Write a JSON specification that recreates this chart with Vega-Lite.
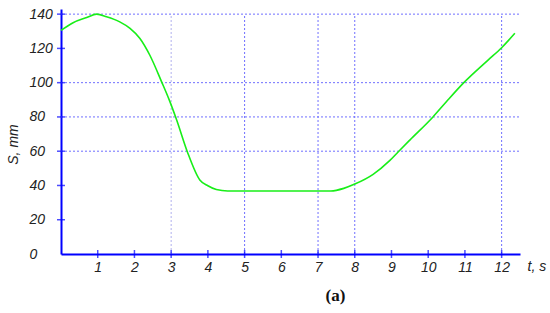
{
  "$schema": "https://vega.github.io/schema/vega-lite/v6.json",
  "width": 459,
  "height": 245,
  "autosize": {"type": "none"},
  "padding": {"left": 61, "top": 9, "right": 30, "bottom": 59},
  "background": "white",
  "config": {
    "view": {"stroke": null},
    "axis": {
      "labelOverlap": false, "labelBound": false, "labelFlush": false,
      "grid": false, "ticks": false, "tickSize": 0,
      "domainColor": "#0000ff", "domainWidth": 2,
      "labelFont": "Liberation Sans", "labelFontStyle": "italic", "labelFontSize": 14, "labelColor": "#222222",
      "titleFont": "Liberation Sans", "titleFontStyle": "italic", "titleFontWeight": "normal", "titleFontSize": 14, "titleColor": "#222222"
    }
  },
  "title": {
    "text": "(a)",
    "orient": "bottom",
    "anchor": "middle",
    "font": "Liberation Serif",
    "fontSize": 17,
    "fontWeight": "bold",
    "color": "#111111",
    "dx": 45,
    "offset": 14
  },
  "datasets": {
    "curve": [
      {"t": 0, "S": 130.5}, {"t": 0.33, "S": 135}, {"t": 0.7, "S": 138}, {"t": 0.97, "S": 140},
      {"t": 1.24, "S": 138.5}, {"t": 1.6, "S": 135.5}, {"t": 1.88, "S": 131.7}, {"t": 2.15, "S": 125.8},
      {"t": 2.42, "S": 116}, {"t": 2.74, "S": 100.5}, {"t": 2.95, "S": 89.8}, {"t": 3.15, "S": 78.2},
      {"t": 3.44, "S": 59.7}, {"t": 3.78, "S": 43.2}, {"t": 4.0, "S": 39.8}, {"t": 4.23, "S": 37.6},
      {"t": 4.54, "S": 36.8}, {"t": 7.35, "S": 36.8}, {"t": 7.7, "S": 38.3}, {"t": 8, "S": 40.8},
      {"t": 8.5, "S": 46.5}, {"t": 8.95, "S": 54.5}, {"t": 9.2, "S": 60}, {"t": 9.5, "S": 66.5},
      {"t": 10.13, "S": 80}, {"t": 10.5, "S": 89}, {"t": 10.97, "S": 100}, {"t": 11.63, "S": 113.2},
      {"t": 12, "S": 120.4}, {"t": 12.36, "S": 128.8}
    ],
    "hgrid": [{"S": 60}, {"S": 80}, {"S": 100}, {"S": 140}],
    "vgrid": [{"t": 5}, {"t": 7}, {"t": 8}, {"t": 12}],
    "vgridLight": [{"t": 3}],
    "xticks": [{"t": 1}, {"t": 2}, {"t": 3}, {"t": 4}, {"t": 5}, {"t": 6}, {"t": 7}, {"t": 8}, {"t": 9}, {"t": 10}, {"t": 11}, {"t": 12}],
    "yticks": [{"S": 20}, {"S": 40}, {"S": 60}, {"S": 80}, {"S": 100}, {"S": 120}, {"S": 140}]
  },
  "resolve": {"axis": {"x": "independent", "y": "independent"}},
  "layer": [
    {
      "data": {"name": "hgrid"},
      "mark": {"type": "rule", "color": "#6f6fff", "strokeWidth": 1, "strokeDash": [2, 2]},
      "encoding": {
        "y": {"field": "S", "type": "quantitative", "axis": null, "scale": {"domain": [0, 143], "nice": false}},
        "x": {"datum": 0, "type": "quantitative", "axis": null, "scale": {"domain": [0, 12.5], "nice": false}},
        "x2": {"datum": 12.5}
      }
    },
    {
      "data": {"name": "vgrid"},
      "mark": {"type": "rule", "color": "#6f6fff", "strokeWidth": 1, "strokeDash": [2, 2]},
      "encoding": {
        "x": {"field": "t", "type": "quantitative", "axis": null},
        "y": {"datum": 0, "type": "quantitative", "axis": null},
        "y2": {"datum": 140}
      }
    },
    {
      "data": {"name": "vgridLight"},
      "mark": {"type": "rule", "color": "#b0b0ee", "strokeWidth": 1, "strokeDash": [2, 2]},
      "encoding": {
        "x": {"field": "t", "type": "quantitative", "axis": null},
        "y": {"datum": 0, "type": "quantitative", "axis": null},
        "y2": {"datum": 140}
      }
    },
    {
      "data": {"name": "curve"},
      "mark": {"type": "line", "color": "#18ee18", "strokeWidth": 1.6, "interpolate": "monotone"},
      "encoding": {
        "x": {
          "field": "t", "type": "quantitative",
          "axis": {
            "values": [1, 2, 3, 4, 5, 6, 7, 8, 9, 10, 11, 12],
            "labelPadding": 6,
            "title": "t, s",
            "titleX": 466, "titleY": 12, "titleAlign": "left", "titleBaseline": "middle", "titleAnchor": null
          }
        },
        "y": {
          "field": "S", "type": "quantitative",
          "axis": {
            "values": [0, 20, 40, 60, 80, 100, 120, 140],
            "labelAlign": "left", "labelBaseline": "middle", "labelPadding": 32,
            "title": "S, mm",
            "titleAngle": -90, "titleX": -48, "titleY": 135, "titleAlign": "center", "titleBaseline": "middle", "titleAnchor": null
          }
        }
      }
    },
    {
      "data": {"name": "xticks"},
      "mark": {"type": "tick", "orient": "vertical", "color": "#0000ff", "size": 8, "thickness": 1.5},
      "encoding": {
        "x": {"field": "t", "type": "quantitative", "axis": null},
        "y": {"datum": 0, "type": "quantitative", "axis": null}
      }
    },
    {
      "data": {"name": "yticks"},
      "mark": {"type": "tick", "orient": "horizontal", "color": "#0000ff", "size": 8, "thickness": 1.5},
      "encoding": {
        "y": {"field": "S", "type": "quantitative", "axis": null},
        "x": {"datum": 0, "type": "quantitative", "axis": null}
      }
    }
  ]
}
